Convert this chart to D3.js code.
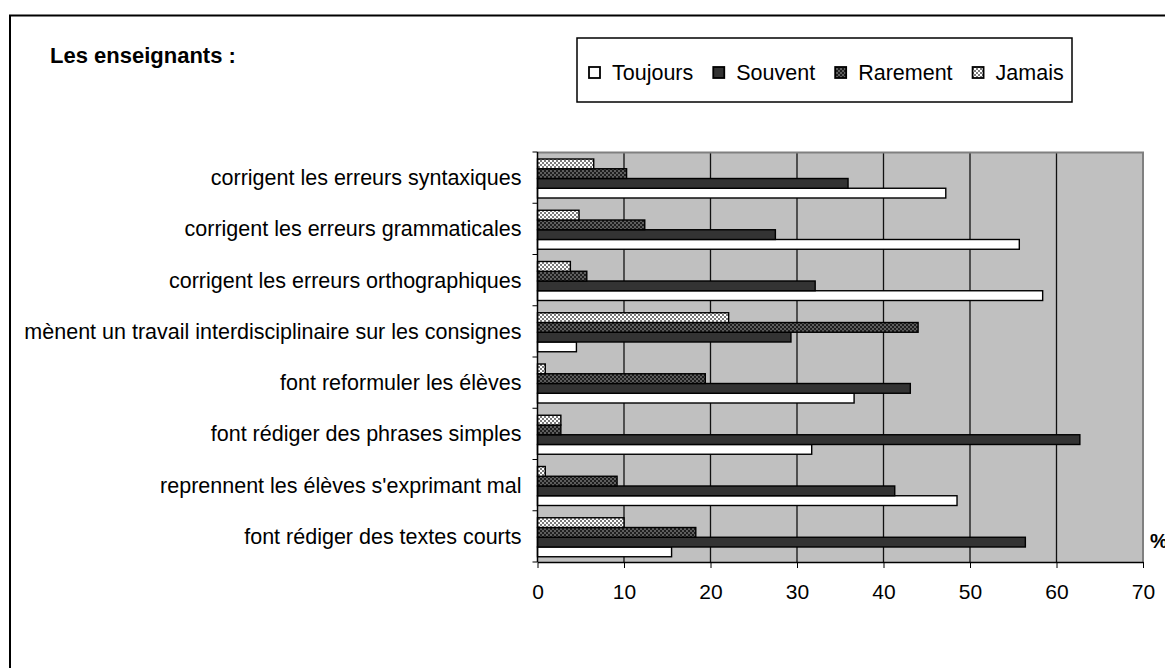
<!DOCTYPE html>
<html>
<head>
<meta charset="utf-8">
<script src="https://cdn.jsdelivr.net/npm/d3@7/dist/d3.min.js"></script>
<style>
body { margin: 0; background: #fff; }
svg { display: block; font-family: "Liberation Sans", Arial, sans-serif; }
</style>
</head>
<body>
<script>
var categories = [
	"corrigent les erreurs syntaxiques",
	"corrigent les erreurs grammaticales",
	"corrigent les erreurs orthographiques",
	"mènent un travail interdisciplinaire sur les consignes",
	"font reformuler les élèves",
	"font rédiger des phrases simples",
	"reprennent les élèves s'exprimant mal",
	"font rédiger des textes courts"
];
var seriesNames = ["Toujours", "Souvent", "Rarement", "Jamais"];
var toujours = [47.2, 55.7, 58.4, 4.5, 36.6, 31.7, 48.5, 15.5];
var souvent = [35.9, 27.5, 32.1, 29.3, 43.1, 62.7, 41.3, 56.4];
var rarement = [10.3, 12.4, 5.7, 44.0, 19.4, 2.7, 9.2, 18.3];
var jamais = [6.5, 4.8, 3.8, 22.1, 0.9, 2.7, 0.9, 10.0];
var xTicks = [0, 10, 20, 30, 40, 50, 60, 70];

var width = 1165, height = 668;
var plotLeft = 537.5, plotRight = 1143, plotTop = 152, plotBottom = 562;

var valuesBySeries = {Toujours: toujours, Souvent: souvent, Rarement: rarement, Jamais: jamais};
var fills = {Toujours: "#fff", Souvent: "#333", Rarement: "url(#patRare)", Jamais: "url(#patJam)"};

var svg = d3.select("body").append("svg")
	.attr("width", width)
	.attr("height", height);

// patterns for Rarement / Jamais
var defs = svg.append("defs");
var p1 = defs.append("pattern").attr("id", "patRare")
	.attr("width", 4).attr("height", 4).attr("patternUnits", "userSpaceOnUse");
p1.append("rect").attr("width", 4).attr("height", 4).attr("fill", "#1e1e1e");
p1.append("rect").attr("width", 2).attr("height", 2).attr("fill", "#5e5e5e");
p1.append("rect").attr("x", 2).attr("y", 2).attr("width", 2).attr("height", 2).attr("fill", "#5e5e5e");
var p2 = defs.append("pattern").attr("id", "patJam")
	.attr("width", 4).attr("height", 4).attr("patternUnits", "userSpaceOnUse");
p2.append("rect").attr("width", 4).attr("height", 4).attr("fill", "#fff");
p2.append("rect").attr("width", 2).attr("height", 2).attr("fill", "#7a7a7a");
p2.append("rect").attr("x", 2).attr("y", 2).attr("width", 2).attr("height", 2).attr("fill", "#7a7a7a");

// outer frame (right and bottom run off the page)
svg.append("rect")
	.attr("x", 10).attr("y", 15.5)
	.attr("width", 1200).attr("height", 700)
	.attr("fill", "none").attr("stroke", "#000").attr("stroke-width", 2);

svg.append("text")
	.attr("x", 50).attr("y", 63)
	.attr("font-size", 22).attr("font-weight", "bold")
	.text("Les enseignants :");

var xScale = d3.scaleLinear()
	.domain([0, 70])
	.range([plotLeft, plotRight]);

var yScale = d3.scaleBand()
	.domain(categories)
	.range([plotTop, plotBottom]);

// bars inside a category: Jamais on top, Toujours at the bottom
var inner = d3.scaleBand()
	.domain(["Jamais", "Rarement", "Souvent", "Toujours"])
	.range([7, 46]);

// plot background
svg.append("rect")
	.attr("x", plotLeft).attr("y", plotTop)
	.attr("width", plotRight - plotLeft).attr("height", plotBottom - plotTop)
	.attr("fill", "#c0c0c0");

// vertical gridlines
svg.append("g").selectAll("line")
	.data(xTicks.slice(1, -1))
	.enter().append("line")
		.attr("x1", function(d){ return xScale(d) })
		.attr("x2", function(d){ return xScale(d) })
		.attr("y1", plotTop).attr("y2", plotBottom)
		.attr("stroke", "#111").attr("stroke-width", 1.3);

// gray border top + right
svg.append("path")
	.attr("d", "M" + plotLeft + "," + (plotTop + 0.5) + "H" + plotRight + "V" + plotBottom)
	.attr("fill", "none").attr("stroke", "#808080").attr("stroke-width", 2);

var rows = [];
categories.forEach(function(c, i){
	seriesNames.forEach(function(s){
		rows.push({cat: c, series: s, value: valuesBySeries[s][i]});
	});
});

svg.append("g").selectAll("rect")
	.data(rows)
	.enter().append("rect")
		.attr("x", xScale(0))
		.attr("y", function(d){ return yScale(d.cat) + inner(d.series) })
		.attr("width", function(d){ return xScale(d.value) - xScale(0) })
		.attr("height", inner.bandwidth())
		.attr("fill", function(d){ return fills[d.series] })
		.attr("stroke", "#000")
		.attr("stroke-width", 1.4);

// x axis
var xAxis = svg.append("g")
	.attr("transform", "translate(0," + plotBottom + ")")
	.call(d3.axisBottom(xScale).tickValues(xTicks).tickSize(6).tickPadding(16).tickSizeOuter(0));
xAxis.select(".domain").attr("stroke", "#000").attr("stroke-width", 1.5);
xAxis.selectAll("line").attr("stroke", "#000");
xAxis.selectAll("text")
	.attr("font-size", 21)
	.attr("font-family", "Liberation Sans, Arial, sans-serif")
	.attr("fill", "#000");

// y axis: line with ticks at category boundaries
svg.append("line")
	.attr("x1", plotLeft).attr("x2", plotLeft)
	.attr("y1", plotTop).attr("y2", plotBottom)
	.attr("stroke", "#000").attr("stroke-width", 1.5);
svg.append("g").selectAll("line")
	.data(categories)
	.enter().append("line")
		.attr("x1", plotLeft - 5).attr("x2", plotLeft)
		.attr("y1", function(d){ return yScale(d) })
		.attr("y2", function(d){ return yScale(d) })
		.attr("stroke", "#000");
svg.append("line")
	.attr("x1", plotLeft - 5).attr("x2", plotLeft)
	.attr("y1", plotBottom).attr("y2", plotBottom)
	.attr("stroke", "#000");

svg.append("g").selectAll("text")
	.data(categories)
	.enter().append("text")
		.attr("x", plotLeft - 16)
		.attr("y", function(d){ return yScale(d) + yScale.bandwidth() / 2 })
		.attr("dy", "0.35em")
		.attr("text-anchor", "end")
		.attr("font-size", 21.5)
		.text(function(d){ return d });

svg.append("text")
	.attr("x", 1150).attr("y", 548)
	.attr("font-size", 20).attr("font-weight", "bold")
	.text("%");

// legend
var legend = svg.append("g");
legend.append("rect")
	.attr("x", 577).attr("y", 38)
	.attr("width", 495).attr("height", 64)
	.attr("fill", "#fff").attr("stroke", "#000").attr("stroke-width", 1.5);

var lx = 589;
seriesNames.forEach(function(s){
	legend.append("rect")
		.attr("x", lx).attr("y", 67)
		.attr("width", 11).attr("height", 11)
		.attr("fill", fills[s]).attr("stroke", "#000").attr("stroke-width", 1.8);
	var t = legend.append("text")
		.attr("x", lx + 23).attr("y", 80)
		.attr("font-size", 21.5)
		.text(s);
	lx = lx + 23 + t.node().getComputedTextLength() + 20;
});
</script>
</body>
</html>
